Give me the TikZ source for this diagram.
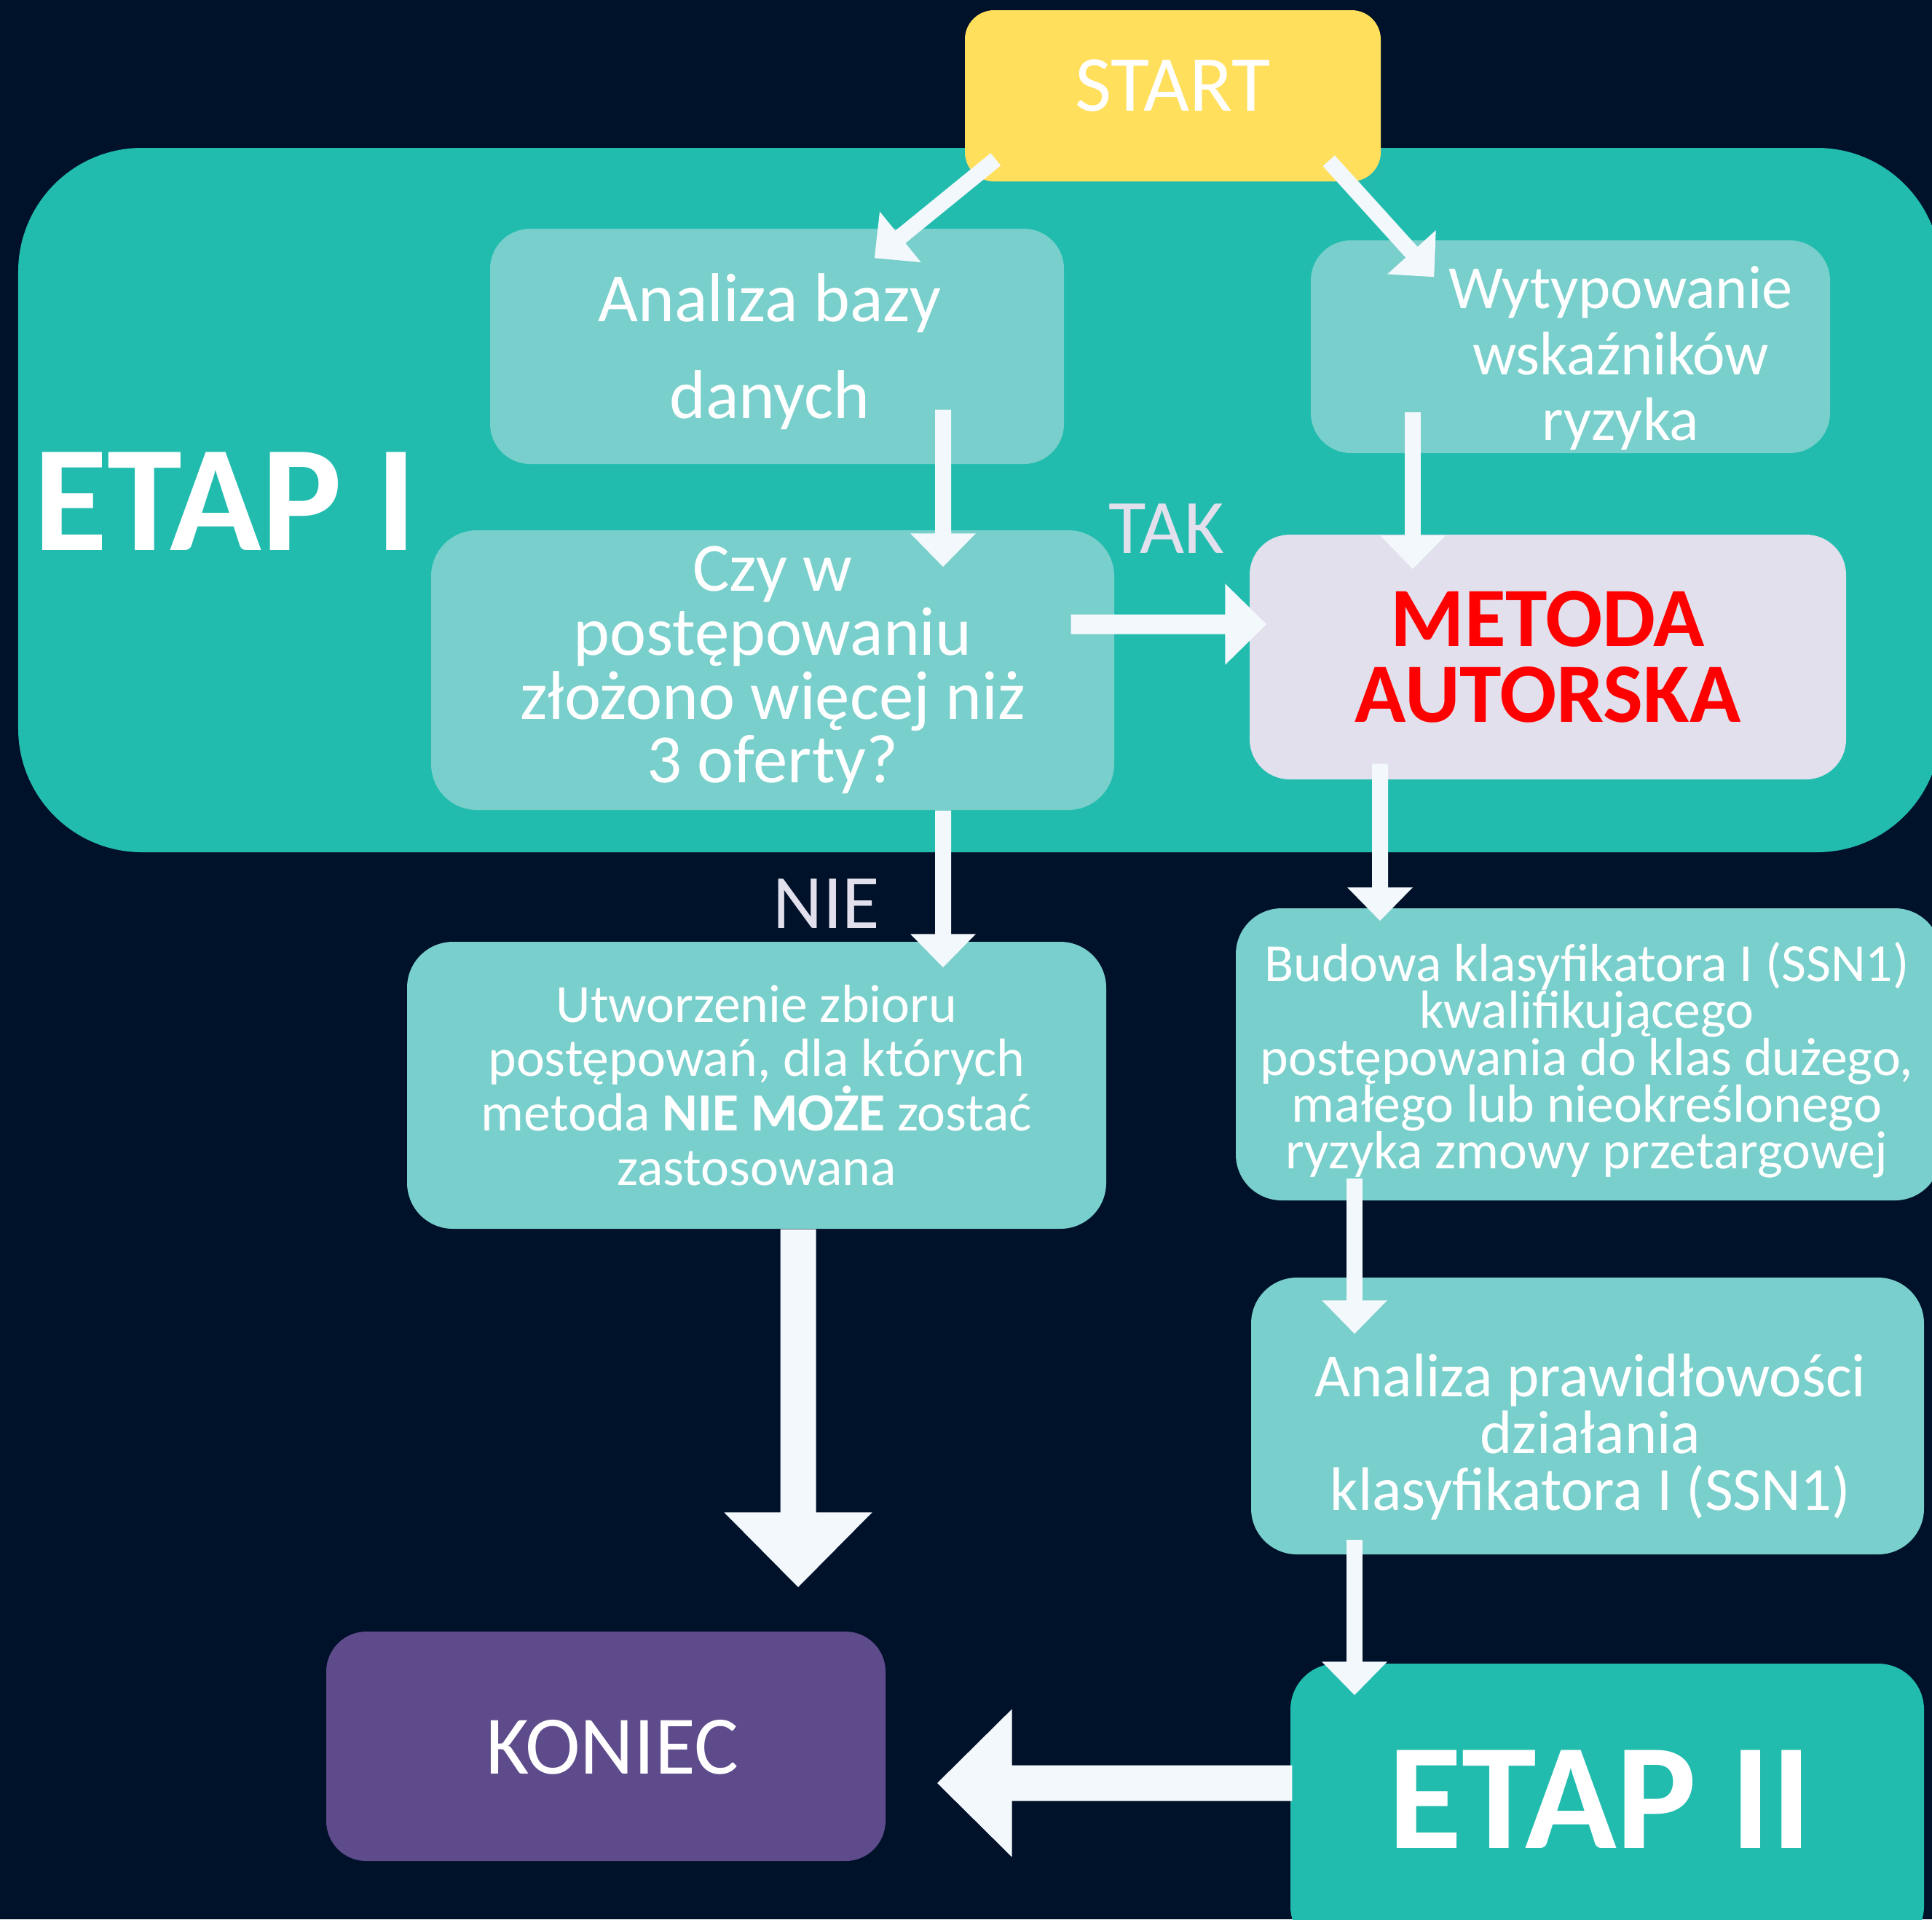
\documentclass[tikz,border=0pt]{standalone}
\usepackage{fontspec}
\setmainfont{Carlito}
\usetikzlibrary{arrows.meta}
\definecolor{tlo}{HTML}{00112A}
\definecolor{morski}{HTML}{22BCAF}
\definecolor{jasny}{HTML}{78CFCB}
\definecolor{zolty}{HTML}{FFDF5B}
\definecolor{lawenda}{HTML}{E1E0EC}
\definecolor{fiolet}{HTML}{5E4B8B}
\definecolor{strzalka}{HTML}{F3F8FC}

\begin{document}
\begin{tikzpicture}[x=1mm, y=-1mm,
    box/.style={rectangle, rounded corners=5.5mm, inner sep=0pt, text=white, align=center},
    napis/.style={inner sep=0pt, anchor=base},
    strz/.style={draw=strzalka, line width=2.2mm, -{Triangle[length=4.6mm,width=8.7mm]}},
    strzsr/.style={draw=strzalka, line width=2.7mm, -{Triangle[length=5.7mm,width=10.8mm]}},
    strzgr/.style={draw=strzalka, line width=4.9mm, -{Triangle[length=10.3mm,width=19.7mm]}}]
  \useasboundingbox (0,0) rectangle (265.3,263.5);
  \fill[tlo] (0,0) rectangle (265.3,263.5);

  \node[box, fill=morski, rounded corners=17mm, minimum width=264mm, minimum height=96.7mm] (etap1) at (134.5,68.65) {};
  \node[napis, text=white, font=\bfseries\fontsize{59}{64}\selectfont] (etap1txt) at (30.9,75.5) {ETAP I};

  \node[box, fill=zolty, rounded corners=4mm, minimum width=57.1mm, minimum height=23.5mm,
    font=\fontsize{31}{37}\selectfont, text height=21.7pt, text depth=10pt] (start) at (161.05,13.15) {START};
  \node[box, fill=jasny, minimum width=78.8mm, minimum height=32.3mm] (analiza) at (106.7,47.55) {};
  \node[box, font=\fontsize{27}{37.8}\selectfont] (analizatxt) at ([shift={(-1,0.7)}]analiza.center) {Analiza bazy\\danych};
  \node[box, fill=jasny, minimum width=71.3mm, minimum height=29.2mm] (wytyp) at (215.65,47.6) {};
  \node[box, font=\fontsize{24}{25.7}\selectfont] (wytyptxt) at ([shift={(6.9,1.6)}]wytyp.center)
    {Wytypowanie\\wskaźników\\ryzyka};
  \node[box, fill=jasny, rounded corners=6.3mm, minimum width=93.8mm, minimum height=38.4mm,
    font=\fontsize{27}{25}\selectfont] (czy) at (106.1,92)
    {Czy w\\postępowaniu\\złożono więcej niż\\3 oferty?};
  \node[box, fill=lawenda, minimum width=81.9mm, minimum height=33.6mm, text=red,
    font=\bfseries\fontsize{33}{29.6}\selectfont] (metoda) at (212.55,90.2) {METODA\\AUTORSKA};
  \node[napis, text=lawenda, font=\fontsize{30}{36}\selectfont] (tak) at (160.2,75.9) {TAK};
  \node[napis, text=lawenda, font=\fontsize{30}{36}\selectfont] (nie) at (113.5,127.4) {NIE};

  \node[box, fill=jasny, rounded corners=6.3mm, minimum width=96mm, minimum height=39.4mm,
    font=\fontsize{21}{21.3}\selectfont] (utworzenie) at (103.9,149)
    {Utworzenie zbioru\\postępowań, dla których\\metoda \textbf{NIE MOŻE} zostać\\zastosowana};
  \node[box, fill=jasny, rounded corners=6.3mm, minimum width=96.8mm, minimum height=40.1mm] (budowa) at (218.1,144.75) {};
  \node[box, font=\fontsize{21}{18.3}\selectfont] (budowatxt) at ([shift={(-0.2,0.8)}]budowa.center)
    {Budowa klasyfikatora I (SSN1)\\kwalifikującego\\postępowania do klas dużego,\\małego lub nieokreślonego\\ryzyka zmowy przetargowej};
  \node[box, fill=jasny, rounded corners=6.3mm, minimum width=92.4mm, minimum height=38mm] (prawid) at (218,194.4) {};
  \node[box, font=\fontsize{24}{22.2}\selectfont] (prawidtxt) at ([shift={(0.4,2.9)}]prawid.center)
    {Analiza prawidłowości\\działania\\klasyfikatora I (SSN1)};
  \node[box, fill=fiolet, minimum width=76.8mm, minimum height=31.5mm] (koniec) at (83.2,239.75) {};
  \node[napis, text=white, font=\fontsize{32.5}{38}\selectfont] (koniectxt) at ([shift={(0.9,3.75)}]koniec.center) {KONIEC};
  \node[box, fill=morski, rounded corners=6.3mm, minimum width=87mm, minimum height=39.6mm] (etap2) at (220.7,248.2) {};
  \node[napis, text=white, font=\bfseries\fontsize{59}{64}\selectfont] (etap2txt) at ([shift={(-1,5.5)}]etap2.center) {ETAP II};

  \draw[strz] ([shift={(4.3,-3.1)}]start.south west) -- ([shift={(-26.1,4.1)}]analiza.north east);
  \draw[strz] ([shift={(-7.2,-2.9)}]start.south east) -- ([shift={(17,5.1)}]wytyp.north west);
  \draw[strz] ([shift={(22.8,-7.5)}]analiza.south) -- ([shift={(23.4,5.1)}]czy.north);
  \draw[strz] ([shift={(-21.65,-5.7)}]wytyp.south) -- ([shift={(-18.55,4.8)}]metoda.north);
  \draw[strzsr] ([shift={(-6,-6.3)}]czy.east) -- ([shift={(2.4,-4.5)}]metoda.west);
  \draw[strz] ([shift={(23.4,0)}]czy.south) -- ([shift={(25.6,3.6)}]utworzenie.north);
  \draw[strz] ([shift={(-23.05,-2.2)}]metoda.south) -- ([shift={(-28.6,1.8)}]budowa.north);
  \draw[strz] ([shift={(-32.1,-3.1)}]budowa.south) -- ([shift={(-32,7.8)}]prawid.north);
  \draw[strz] ([shift={(-32,-2.1)}]prawid.south) -- ([shift={(-34.7,4.4)}]etap2.north);
  \draw[strzgr] ([shift={(5.7,0)}]utworzenie.south) -- ([shift={(26.4,-6)}]koniec.north);
  \draw[strzgr] ([shift={(0.3,-3.4)}]etap2.west) -- ([shift={(7,5.05)}]koniec.east);
\end{tikzpicture}
\end{document}
